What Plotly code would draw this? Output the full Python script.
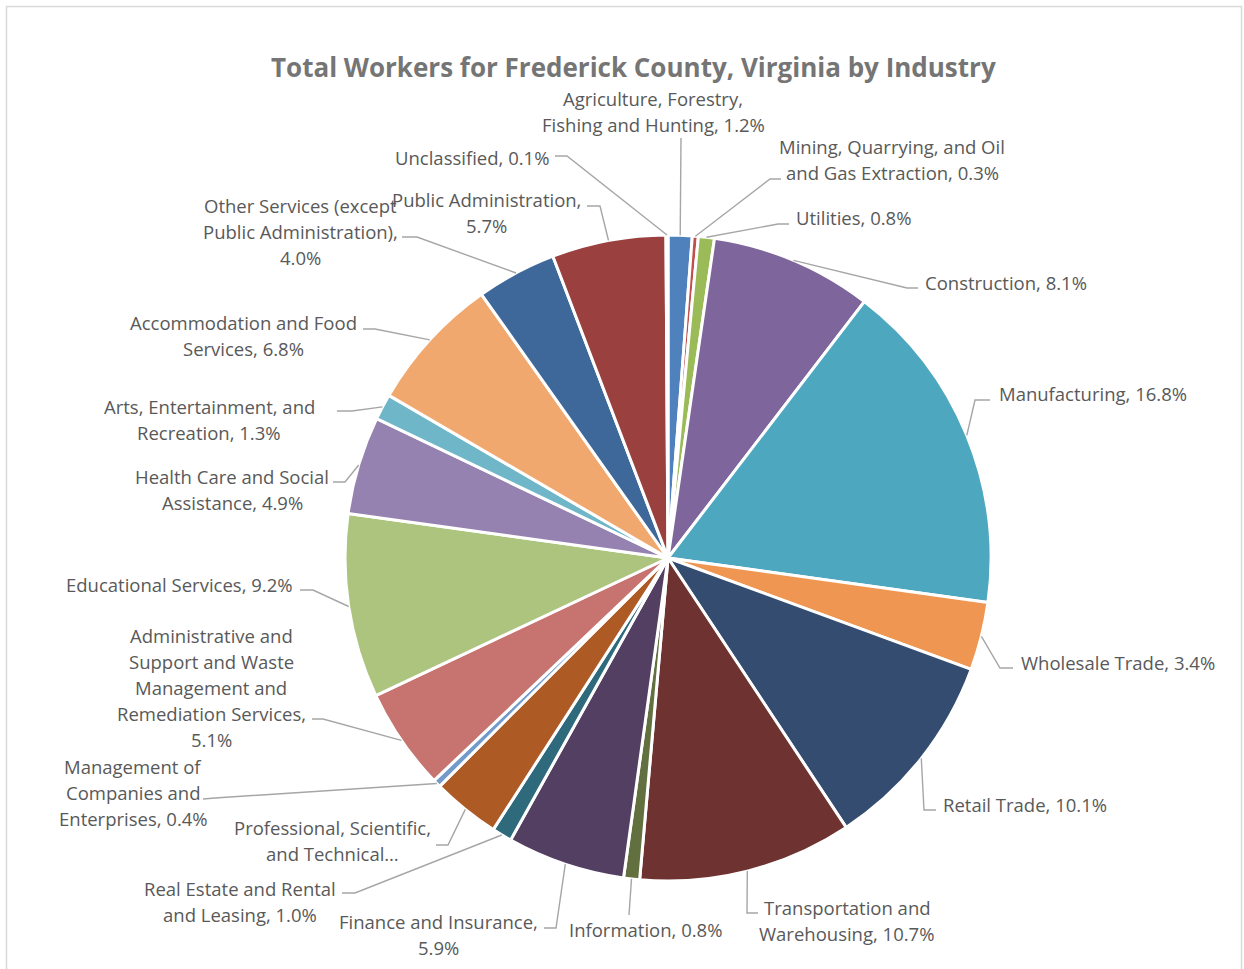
import math
import plotly.graph_objects as go

# ---------------- data ----------------
industries = [
    "Agriculture, Forestry, Fishing and Hunting",
    "Mining, Quarrying, and Oil and Gas Extraction",
    "Utilities",
    "Construction",
    "Manufacturing",
    "Wholesale Trade",
    "Retail Trade",
    "Transportation and Warehousing",
    "Information",
    "Finance and Insurance",
    "Real Estate and Rental and Leasing",
    "Professional, Scientific, and Technical Services",
    "Management of Companies and Enterprises",
    "Administrative and Support and Waste Management and Remediation Services",
    "Educational Services",
    "Health Care and Social Assistance",
    "Arts, Entertainment, and Recreation",
    "Accommodation and Food Services",
    "Other Services (except Public Administration)",
    "Public Administration",
    "Unclassified",
]
shares = [1.2, 0.3, 0.8, 8.1, 16.8, 3.4, 10.1, 10.7, 0.8, 5.9, 1.0, 3.4, 0.4,
          5.1, 9.2, 4.9, 1.3, 6.8, 4.0, 5.7, 0.1]
# displayed (wrapped) label text, one entry per slice
label_lines = [
    ["Agriculture, Forestry,", "Fishing and Hunting, 1.2%"],
    ["Mining, Quarrying, and Oil", "and Gas Extraction, 0.3%"],
    ["Utilities, 0.8%"],
    ["Construction, 8.1%"],
    ["Manufacturing, 16.8%"],
    ["Wholesale Trade, 3.4%"],
    ["Retail Trade, 10.1%"],
    ["Transportation and", "Warehousing, 10.7%"],
    ["Information, 0.8%"],
    ["Finance and Insurance,", "5.9%"],
    ["Real Estate and Rental", "and Leasing, 1.0%"],
    ["Professional, Scientific,", "and Technical…"],
    ["Management of", "Companies and", "Enterprises, 0.4%"],
    ["Administrative and", "Support and Waste", "Management and", "Remediation Services,", "5.1%"],
    ["Educational Services, 9.2%"],
    ["Health Care and Social", "Assistance, 4.9%"],
    ["Arts, Entertainment, and", "Recreation, 1.3%"],
    ["Accommodation and Food", "Services, 6.8%"],
    ["Other Services (except", "Public Administration),", "4.0%"],
    ["Public Administration,", "5.7%"],
    ["Unclassified, 0.1%"],
]
title = "Total Workers for Frederick County, Virginia by Industry"

# ---------------- styles / layout ----------------
colors = ["#4F81BD", "#C0504D", "#9BBB59", "#7E659C", "#4DA7BF", "#EF9752",
          "#334C70", "#6E3331", "#627040", "#533F62", "#2E6A7C", "#AE5A25",
          "#749ACA", "#C77370", "#ADC47E", "#9682B0", "#6FB7C8", "#F0A86F",
          "#3D6899", "#9A4140", "#3F6BA0"]

W, H = 1244, 969            # figure size = browser viewport (body margin removed)
CX, CY, R = 668, 558, 323   # pie centre / radius in pixels
LINE_H = 26
TXT = "#595959"
FONT = "Open Sans"
FS = 18.5

# label placement (px): (x, first-line y, xanchor, elbow point, end point)
placement = [
    (653, 98, "center", (681, 138), (681, 138)),
    (892, 146, "center", (770, 179), (781, 179)),
    (794, 217, "left", (778, 224), (789, 224)),
    (923, 282, "left", (907, 288), (918, 288)),
    (997, 393, "left", (975, 400), (990, 400)),
    (1019, 662, "left", (1000, 668), (1013, 668)),
    (941, 804, "left", (924, 810), (936, 810)),
    (847, 907, "center", (747, 913), (758, 913)),
    (567, 929, "left", (629, 915), (629, 915)),
    (438, 921, "center", (556, 928), (544, 928)),
    (240, 888, "center", (355, 893), (342, 893)),
    (332, 827, "center", (448, 845), (436, 845)),
    (133, 766, "center", (215, 798), (203, 799)),
    (211, 635, "center", (323, 719), (312, 719)),
    (295, 584, "right", (313, 590), (300, 590)),
    (232, 476, "center", (345, 482), (333, 482)),
    (209, 406, "center", (352, 411), (337, 411)),
    (243, 322, "center", (375, 329), (363, 329)),
    (300, 205, "center", (417, 237), (402, 237)),
    (486, 199, "center", (600, 206), (587, 206)),
    (472, 157, "center", (567, 156), (555, 156)),
]

fig = go.Figure()
fig.add_trace(go.Pie(
    labels=industries, values=shares, sort=False, direction="clockwise",
    rotation=0, textinfo="none", hoverinfo="label+percent",
    marker=dict(colors=colors, line=dict(color="white", width=3)),
    domain=dict(x=[(CX - R) / W, (CX + R) / W],
                y=[(H - CY - R) / H, (H - CY + R) / H]),
    showlegend=False,
))
# invisible axes in pixel space for labels and leader lines
fig.add_trace(go.Scatter(x=[0, W], y=[0, H], mode="markers",
                         marker=dict(opacity=0), hoverinfo="skip", showlegend=False))

total = sum(shares)
cum = 0.0
shapes = []
annotations = []
for v, lines, (tx, ty, xa, elbow, end) in zip(shares, label_lines, placement):
    mid = (cum + v / 2) / total * 2 * math.pi
    cum += v
    sx = CX + R * math.sin(mid)
    sy = CY - R * math.cos(mid)
    shapes.append(dict(type="path",
                       path=f"M {sx:.1f} {sy:.1f} L {elbow[0]} {elbow[1]} L {end[0]} {end[1]}",
                       xref="x", yref="y", line=dict(color="#A6A6A6", width=1.4),
                       layer="above"))
    for i, ln in enumerate(lines):
        annotations.append(dict(x=tx, y=ty + i * LINE_H, xref="x", yref="y", text=ln,
                                showarrow=False, xanchor=xa, yanchor="middle",
                                font=dict(family=FONT, size=FS, color=TXT)))

annotations.append(dict(x=633, y=67, xref="x", yref="y", text=f"<b>{title}</b>",
                        showarrow=False, xanchor="center", yanchor="middle",
                        font=dict(family=FONT, size=26, color="#757575")))

# chart-area border
shapes.append(dict(type="rect", x0=6.5, y0=6.5, x1=1241.5, y1=985, xref="x", yref="y",
                   line=dict(color="#D9D9D9", width=1.5), layer="below"))

fig.update_layout(
    width=W, height=H, margin=dict(l=0, r=0, t=0, b=0),
    paper_bgcolor="white", plot_bgcolor="rgba(0,0,0,0)",
    xaxis=dict(range=[0, W], visible=False, domain=[0, 1], fixedrange=True),
    yaxis=dict(range=[H, 0], visible=False, domain=[0, 1], fixedrange=True),
    shapes=shapes, annotations=annotations,
)
fig.write_html("out.html", config={"displayModeBar": False},
               post_script="document.body.style.margin='0';document.body.style.overflow='hidden';")
